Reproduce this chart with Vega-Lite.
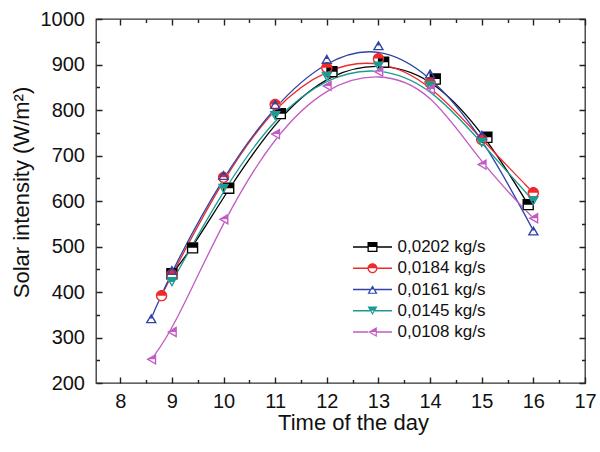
{
  "$schema": "https://vega.github.io/schema/vega-lite/v6.json",
  "width": 489,
  "height": 364,
  "autosize": "none",
  "padding": {"left": 96, "top": 19, "right": 15, "bottom": 69},
  "background": "white",
  "config": {
    "font": "Liberation Sans",
    "view": {"stroke": "#333333", "strokeWidth": 1.3},
    "axis": {
      "domain": false,
      "ticks": false,
      "labelFont": "Liberation Sans",
      "labelFontSize": 20,
      "labelColor": "#111111",
      "titleFont": "Liberation Sans",
      "titleFontSize": 22,
      "titleFontWeight": "normal",
      "titleColor": "#111111",
      "gridColor": "#222222",
      "gridOpacity": 1,
      "gridWidth": 1.4,
      "labelFlush": false,
      "labelOverlap": false
    }
  },
  "data": {
    "values": [
      {"series": "0,0202 kg/s", "t": 9.0, "v": 440},
      {"series": "0,0202 kg/s", "t": 9.4, "v": 497},
      {"series": "0,0202 kg/s", "t": 10.1, "v": 628},
      {"series": "0,0202 kg/s", "t": 11.1, "v": 792},
      {"series": "0,0202 kg/s", "t": 12.1, "v": 884},
      {"series": "0,0202 kg/s", "t": 13.1, "v": 905},
      {"series": "0,0202 kg/s", "t": 14.1, "v": 868},
      {"series": "0,0202 kg/s", "t": 15.1, "v": 740},
      {"series": "0,0202 kg/s", "t": 15.9, "v": 592},
      {"series": "0,0184 kg/s", "t": 8.8, "v": 392},
      {"series": "0,0184 kg/s", "t": 9.0, "v": 438},
      {"series": "0,0184 kg/s", "t": 10.0, "v": 652},
      {"series": "0,0184 kg/s", "t": 11.0, "v": 812},
      {"series": "0,0184 kg/s", "t": 12.0, "v": 893},
      {"series": "0,0184 kg/s", "t": 13.0, "v": 913},
      {"series": "0,0184 kg/s", "t": 14.0, "v": 860},
      {"series": "0,0184 kg/s", "t": 15.0, "v": 735},
      {"series": "0,0184 kg/s", "t": 16.0, "v": 618},
      {"series": "0,0161 kg/s", "t": 8.6, "v": 342},
      {"series": "0,0161 kg/s", "t": 9.0, "v": 448},
      {"series": "0,0161 kg/s", "t": 10.0, "v": 657},
      {"series": "0,0161 kg/s", "t": 11.0, "v": 813},
      {"series": "0,0161 kg/s", "t": 12.0, "v": 912},
      {"series": "0,0161 kg/s", "t": 13.0, "v": 942},
      {"series": "0,0161 kg/s", "t": 14.0, "v": 880},
      {"series": "0,0161 kg/s", "t": 15.0, "v": 745},
      {"series": "0,0161 kg/s", "t": 16.0, "v": 535},
      {"series": "0,0145 kg/s", "t": 9.0, "v": 422},
      {"series": "0,0145 kg/s", "t": 10.0, "v": 627},
      {"series": "0,0145 kg/s", "t": 11.0, "v": 787},
      {"series": "0,0145 kg/s", "t": 12.0, "v": 873},
      {"series": "0,0145 kg/s", "t": 13.0, "v": 896},
      {"series": "0,0145 kg/s", "t": 14.0, "v": 853},
      {"series": "0,0145 kg/s", "t": 15.0, "v": 728},
      {"series": "0,0145 kg/s", "t": 16.0, "v": 600},
      {"series": "0,0108 kg/s", "t": 8.6, "v": 252},
      {"series": "0,0108 kg/s", "t": 9.0, "v": 312},
      {"series": "0,0108 kg/s", "t": 10.0, "v": 560},
      {"series": "0,0108 kg/s", "t": 11.0, "v": 747},
      {"series": "0,0108 kg/s", "t": 12.0, "v": 853},
      {"series": "0,0108 kg/s", "t": 13.0, "v": 884},
      {"series": "0,0108 kg/s", "t": 14.0, "v": 846},
      {"series": "0,0108 kg/s", "t": 15.0, "v": 680},
      {"series": "0,0108 kg/s", "t": 16.0, "v": 562}
    ]
  },
  "layer": [
    {
      "mark": {"type": "line", "interpolate": "basis", "strokeWidth": 1.3},
      "encoding": {
        "x": {
          "field": "t", "type": "quantitative",
          "scale": {"domain": [7.53, 17], "nice": false, "zero": false},
          "axis": {
            "orient": "bottom",
            "values": [8, 9, 10, 11, 12, 13, 14, 15, 16, 17],
            "grid": true,
            "gridDash": [6, 352, 6, 1000],
            "labelExpr": "'' + datum.value",
            "labelPadding": 8,
            "title": "Time of the day",
            "titleX": 257,
            "titleY": 29,
            "titleBaseline": "top"
          }
        },
        "y": {
          "field": "v", "type": "quantitative",
          "scale": {"domain": [200, 1000], "nice": false, "zero": false},
          "axis": {
            "orient": "left",
            "values": [200, 300, 400, 500, 600, 700, 800, 900, 1000],
            "grid": true,
            "gridDash": [6, 477, 6, 1000],
            "labelExpr": "'' + datum.value",
            "labelPadding": 11.5,
            "title": "Solar intensity (W/m²)",
            "titleX": -63,
            "titleY": 173
          }
        },
        "stroke": {
          "field": "series", "type": "nominal",
          "scale": {
            "domain": ["0,0202 kg/s", "0,0184 kg/s", "0,0161 kg/s", "0,0145 kg/s", "0,0108 kg/s"],
            "range": ["#000000", "#ee2b2b", "#3043a6", "#1e9a92", "#c25bc2"]
          },
          "legend": null
        }
      }
    },
    {
      "mark": {"type": "point", "filled": true, "fill": "white", "strokeWidth": 0, "size": 130, "opacity": 1},
      "encoding": {
        "x": {
          "field": "t", "type": "quantitative",
          "scale": {"domain": [7.53, 17], "nice": false, "zero": false},
          "axis": {
            "orient": "bottom",
            "values": [8.5, 9.5, 10.5, 11.5, 12.5, 13.5, 14.5, 15.5, 16.5],
            "grid": true,
            "gridDash": [3.5, 357, 3.5, 1000],
            "labels": false,
            "title": null
          }
        },
        "y": {
          "field": "v", "type": "quantitative",
          "scale": {"domain": [200, 1000], "nice": false, "zero": false},
          "axis": {
            "orient": "left",
            "values": [250, 350, 450, 550, 650, 750, 850, 950],
            "grid": true,
            "gridDash": [3.5, 482, 3.5, 1000],
            "labels": false,
            "title": null
          }
        },
        "shape": {
          "field": "series", "type": "nominal",
          "scale": {
            "domain": ["0,0202 kg/s", "0,0184 kg/s", "0,0161 kg/s", "0,0145 kg/s", "0,0108 kg/s"],
            "range": ["square", "circle", "triangle-up", "triangle-down", "triangle-left"]
          },
          "legend": null
        }
      }
    },
    {
      "mark": {"type": "point", "filled": true, "size": 130, "opacity": 1, "strokeWidth": 0},
      "encoding": {
        "x": {
          "field": "t", "type": "quantitative",
          "scale": {"domain": [7.53, 17], "nice": false, "zero": false},
          "axis": null
        },
        "y": {
          "field": "v", "type": "quantitative",
          "scale": {"domain": [200, 1000], "nice": false, "zero": false},
          "axis": null
        },
        "fill": {
          "field": "series", "type": "nominal",
          "scale": {
            "domain": ["0,0202 kg/s", "0,0184 kg/s", "0,0161 kg/s", "0,0145 kg/s", "0,0108 kg/s"],
            "range": ["#000000", "#ee2b2b", "#3043a6", "#1e9a92", "#c25bc2"]
          },
          "legend": null
        },
        "shape": {
          "field": "series", "type": "nominal",
          "scale": {
            "domain": ["0,0202 kg/s", "0,0184 kg/s", "0,0161 kg/s", "0,0145 kg/s", "0,0108 kg/s"],
            "range": [
              "M-1,-1H1V1H-1ZM-0.76,-0.76V0.76H0.76V-0.76ZM-0.76,-0.76H0.76V0H-0.76Z",
              "M-1,0A1,1,0,0,1,1,0A1,1,0,0,1,-1,0ZM-0.76,0A0.76,0.76,0,0,0,0.76,0A0.76,0.76,0,0,0,-0.76,0ZM-0.76,0A0.76,0.76,0,0,1,0.76,0Z",
              "M0,-0.866L1,0.866H-1ZM0,-0.3856L-0.584,0.6258H0.584ZM0,-0.3856L0.2227,0H-0.2227Z",
              "M-1,-0.866H1L0,0.866ZM-0.584,-0.6258L0,0.3856L0.584,-0.6258ZM-0.584,-0.6258H0.584L0.2227,0H-0.2227Z",
              "M-0.866,0L0.866,-1V1ZM-0.3856,0L0.6258,0.584V-0.584ZM-0.3856,0L0.6258,-0.584V0Z"
            ]
          },
          "legend": null
        }
      }
    },
    {
      "transform": [{"filter": "datum.t > 100"}],
      "mark": {"type": "point", "filled": true, "size": 100, "opacity": 1, "strokeWidth": 0},
      "encoding": {
        "x": {
          "field": "t", "type": "quantitative",
          "scale": {"domain": [7.53, 17], "nice": false, "zero": false},
          "axis": null
        },
        "y": {
          "field": "v", "type": "quantitative",
          "scale": {"domain": [200, 1000], "nice": false, "zero": false},
          "axis": null
        },
        "color": {
          "field": "series", "type": "nominal",
          "scale": {
            "domain": ["0,0202 kg/s", "0,0184 kg/s", "0,0161 kg/s", "0,0145 kg/s", "0,0108 kg/s"],
            "range": ["#000000", "#ee2b2b", "#3043a6", "#1e9a92", "#c25bc2"]
          },
          "legend": {
            "orient": "none", "legendX": 253, "legendY": 219.5, "title": null, "padding": 0,
            "labelFont": "Liberation Sans", "labelFontSize": 17, "labelColor": "#111111",
            "symbolSize": 100, "symbolOpacity": 1, "symbolStrokeWidth": 0,
            "symbolOffset": 15, "labelOffset": 16.5, "rowPadding": 3.25
          }
        },
        "shape": {
          "field": "series", "type": "nominal",
          "scale": {
            "domain": ["0,0202 kg/s", "0,0184 kg/s", "0,0161 kg/s", "0,0145 kg/s", "0,0108 kg/s"],
            "range": [
              "M-1,-1H1V1H-1ZM-0.74,-0.74V0.74H0.74V-0.74ZM-0.74,-0.74H0.74V0H-0.74ZM-3.9,-0.13H-1V0.13H-3.9ZM1,-0.13H3.9V0.13H1Z",
              "M-1,0A1,1,0,0,1,1,0A1,1,0,0,1,-1,0ZM-0.74,0A0.74,0.74,0,0,0,0.74,0A0.74,0.74,0,0,0,-0.74,0ZM-0.74,0A0.74,0.74,0,0,1,0.74,0ZM-3.9,-0.13H-0.99V0.13H-3.9ZM0.99,-0.13H3.9V0.13H0.99Z",
              "M0,-0.866L1,0.866H-1ZM0,-0.3856L-0.584,0.6258H0.584ZM0,-0.3856L0.2227,0H-0.2227ZM-3.9,-0.13H-0.5V0.13H-3.9ZM0.5,-0.13H3.9V0.13H0.5Z",
              "M-1,-0.866H1L0,0.866ZM-0.584,-0.6258L0,0.3856L0.584,-0.6258ZM-0.584,-0.6258H0.584L0.2227,0H-0.2227ZM-3.9,-0.13H-0.5V0.13H-3.9ZM0.5,-0.13H3.9V0.13H0.5Z",
              "M-0.866,0L0.866,-1V1ZM-0.3856,0L0.6258,0.584V-0.584ZM-0.3856,0L0.6258,-0.584V0ZM-3.9,-0.13H-0.866V0.13H-3.9ZM0.866,-0.13H3.9V0.13H0.866Z"
            ]
          },
          "legend": {
            "orient": "none", "legendX": 253, "legendY": 219.5, "title": null, "padding": 0,
            "labelFont": "Liberation Sans", "labelFontSize": 17, "labelColor": "#111111",
            "symbolSize": 100, "symbolOpacity": 1, "symbolStrokeWidth": 0,
            "symbolOffset": 15, "labelOffset": 16.5, "rowPadding": 3.25
          }
        }
      }
    }
  ],
  "resolve": {
    "scale": {"shape": "independent", "color": "independent"},
    "axis": {"x": "independent", "y": "independent"}
  }
}
